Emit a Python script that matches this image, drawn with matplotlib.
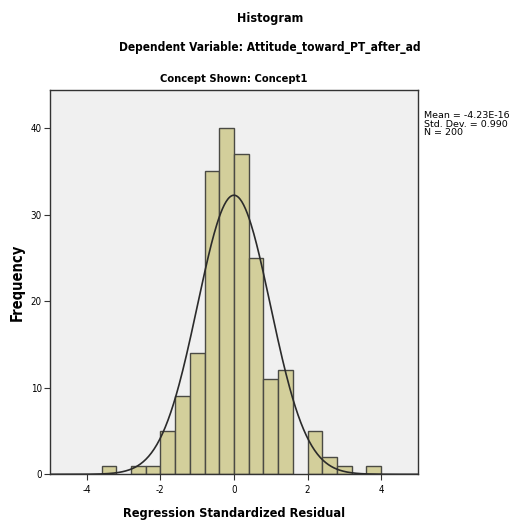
import numpy as np
import matplotlib.pyplot as plt

# residual histogram: bin edges and counts, plus fitted normal stats
bin_edges = [-3.6, -3.2, -2.8, -2.4, -2.0, -1.6, -1.2, -0.8, -0.4, 0.0,
             0.4, 0.8, 1.2, 1.6, 2.0, 2.4, 2.8, 3.2, 3.6, 4.0]
counts = [1, 0, 1, 1, 5, 9, 14, 35, 40, 37, 25, 11, 12, 0, 5, 2, 1, 0, 1]
mean = -4.23e-16
std = 0.990
n = 200
x_ticks = [-4, -2, 0, 2, 4]
y_ticks = [0, 10, 20, 30, 40]

plt.rcParams['font.family'] = ['DejaVu Sans']
plt.rcParams['font.stretch'] = 'condensed'
plt.rcParams['axes.unicode_minus'] = False

fig = plt.figure(figsize=(5.14, 5.26), dpi=100)
ax = fig.add_axes([0.0973, 0.0983, 0.7157, 0.7307])
ax.set_facecolor('#f0f0f0')

edges = np.array(bin_edges)
widths = np.diff(edges)
for left, w, c in zip(edges[:-1], widths, counts):
    if c > 0:
        ax.bar(left, c, width=w, align='edge', color='#d3cf9b',
               edgecolor='#4a4a44', linewidth=1.0)

# normal curve scaled to the histogram
xs = np.linspace(-5, 5, 400)
bw = widths[0]
ys = n * bw / (std * np.sqrt(2 * np.pi)) * np.exp(-0.5 * ((xs - mean) / std) ** 2)
ax.plot(xs, ys, color='#2b2b2b', linewidth=1.2)

ax.set_xlim(-5, 5)
ax.set_ylim(0, 44.4)
ax.set_xticks(x_ticks)
ax.set_yticks(y_ticks)
ax.tick_params(labelsize=7, length=4, width=0.8, color='#333333')
ax.tick_params(axis='x', pad=4)
ax.tick_params(axis='y', pad=2)
for s in ax.spines.values():
    s.set_color('#333333')
    s.set_linewidth(1.0)

ax.set_xlabel('Regression Standardized Residual', fontsize=9.2, fontweight='bold', labelpad=8)
ax.set_ylabel('Frequency', fontsize=10.5, fontweight='bold', labelpad=4)
ax.set_title('Concept Shown: Concept1', fontsize=8.0, fontweight='bold', pad=6)

fig.text(0.525, 0.965, 'Histogram', ha='center', va='center',
         fontsize=9, fontweight='bold')
fig.text(0.525, 0.910, 'Dependent Variable: Attitude_toward_PT_after_ad',
         ha='center', va='center', fontsize=8.6, fontweight='bold')

fig.text(0.824, 0.789, 'Mean = %.2E\nStd. Dev. = %.3f\nN = %d'
         % (mean, std, n), ha='left', va='top', fontsize=6.8,
         fontstretch='normal', linespacing=0.95)

fig.savefig('out.png', dpi=100)
